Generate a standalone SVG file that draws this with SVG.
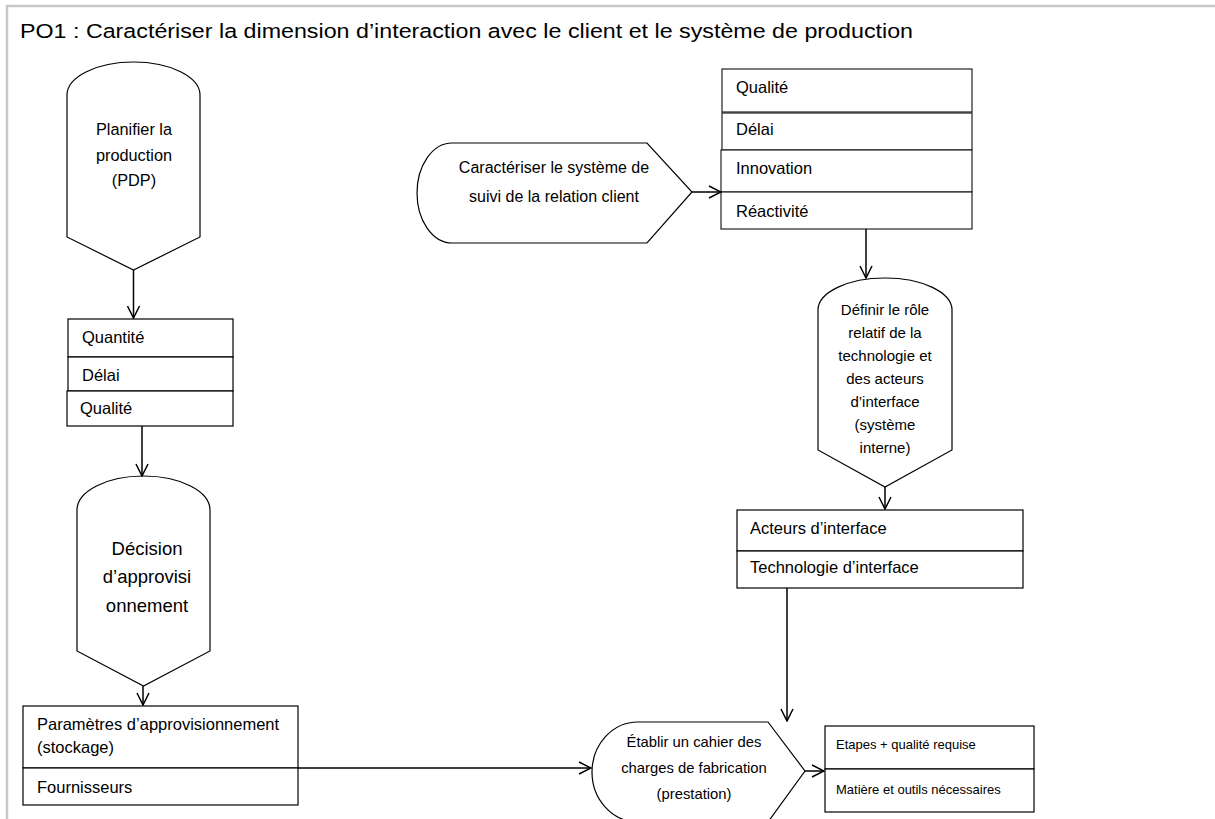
<svg xmlns="http://www.w3.org/2000/svg" width="1215" height="819" viewBox="0 0 1215 819">
<defs>
<marker id="arr" markerUnits="userSpaceOnUse" markerWidth="14" markerHeight="14" viewBox="0 0 14 14" refX="13" refY="7" orient="auto">
<path d="M1,1 L13,7 L1,13" fill="none" stroke="#000" stroke-width="1.5"/>
</marker>
<style>
.s{fill:#fff;stroke:#000;stroke-width:1.2}
.b{fill:#fff;stroke:#222;stroke-width:1.2}
.t{font-family:"Liberation Sans",Arial,sans-serif;fill:#000}
.m{text-anchor:middle}
.c{fill:none;stroke:#000;stroke-width:1.5;marker-end:url(#arr)}
</style>
</defs>
<rect width="1215" height="819" fill="#fff"/>
<g id="frame" stroke="#c8c8c8" stroke-width="2.5" fill="none">
<path d="M7,819 L7,6 L1215,6"/>
</g>
<text id="title" class="t" x="20" y="38" font-size="20.5" textLength="893" lengthAdjust="spacingAndGlyphs">PO1 : Caractériser la dimension d’interaction avec le client et le système de production</text>

<g id="planifier">
<path class="s" d="M67,95 A66.5,33 0 0 1 200,95 L200,237 L133.5,270 L67,237 Z"/>
<text class="t m" font-size="16.3" x="134" y="135">Planifier la</text>
<text class="t m" font-size="16.3" x="134" y="161">production</text>
<text class="t m" font-size="16.3" x="134" y="186">(PDP)</text>
</g>

<g id="qqd-left">
<rect class="s" x="68" y="319" width="165" height="38"/>
<rect class="s" x="68" y="357" width="165" height="34"/>
<rect class="s" x="67" y="391" width="166" height="35"/>
<text class="t" font-size="16.5" x="82" y="343">Quantité</text>
<text class="t" font-size="16.5" x="82" y="381">Délai</text>
<text class="t" font-size="16.5" x="80" y="414">Qualité</text>
</g>

<g id="decision">
<path class="s" d="M77,510 A66.5,34 0 0 1 210,510 L210,651 L143.5,686 L77,651 Z"/>
<text class="t m" font-size="18.5" x="147" y="555">Décision</text>
<text class="t m" font-size="18.5" x="147" y="583">d’approvisi</text>
<text class="t m" font-size="18.5" x="147" y="612">onnement</text>
</g>

<g id="parametres">
<rect class="s" x="23" y="706" width="275" height="62"/>
<rect class="s" x="23" y="768" width="275" height="37"/>
<text class="t" font-size="16.5" x="37" y="730">Paramètres d’approvisionnement</text>
<text class="t" font-size="16.5" x="37" y="753">(stockage)</text>
<text class="t" font-size="16.5" x="37" y="793">Fournisseurs</text>
</g>

<g id="caracteriser">
<path class="s" d="M452,143 L647,143 L692,192 L647,243 L452,243 A35,50 0 0 1 452,143 Z"/>
<text class="t m" font-size="16" x="554" y="173">Caractériser le système de</text>
<text class="t m" font-size="16" x="554" y="202">suivi de la relation client</text>
</g>

<g id="qdir-right">
<rect class="b" x="722" y="69" width="250" height="43"/>
<rect class="b" x="722" y="113" width="250" height="37"/>
<rect class="b" x="721" y="150" width="251" height="42"/>
<rect class="b" x="721" y="192" width="251" height="37"/>
<text class="t" font-size="16.5" x="736" y="93">Qualité</text>
<text class="t" font-size="16.5" x="736" y="135">Délai</text>
<text class="t" font-size="16.5" x="736" y="174">Innovation</text>
<text class="t" font-size="16.5" x="736" y="217">Réactivité</text>
</g>

<g id="definir">
<path class="s" d="M818,310 A67,32 0 0 1 952,310 L952,450 L885,487 L818,450 Z"/>
<text class="t m" font-size="15" x="885" y="315">Définir le rôle</text>
<text class="t m" font-size="15" x="885" y="338">relatif de la</text>
<text class="t m" font-size="15" x="885" y="361">technologie et</text>
<text class="t m" font-size="15" x="885" y="384">des acteurs</text>
<text class="t m" font-size="15" x="885" y="407">d’interface</text>
<text class="t m" font-size="15" x="885" y="430">(système</text>
<text class="t m" font-size="15" x="885" y="453">interne)</text>
</g>

<g id="acteurs">
<rect class="s" x="737" y="510" width="286" height="41"/>
<rect class="s" x="737" y="551" width="286" height="37"/>
<text class="t" font-size="16.5" x="750" y="534">Acteurs d’interface</text>
<text class="t" font-size="16.5" x="750" y="573">Technologie d’interface</text>
</g>

<g id="etablir">
<path class="s" d="M638,722 L768,722 L805,771 L768,822 L638,822 A46,50 0 0 1 638,722 Z"/>
<text class="t m" font-size="14.8" x="694" y="747">Établir un cahier des</text>
<text class="t m" font-size="14.8" x="694" y="773">charges de fabrication</text>
<text class="t m" font-size="14.8" x="694" y="799">(prestation)</text>
</g>

<g id="etapes">
<rect class="s" x="825" y="726" width="209" height="43"/>
<rect class="s" x="825" y="769" width="209" height="43"/>
<text class="t" font-size="13" x="836" y="749">Etapes + qualité requise</text>
<text class="t" font-size="13" x="836" y="794">Matière et outils nécessaires</text>
</g>

<g id="connectors">
<path class="c" d="M133.5,270 L133.5,318"/>
<path class="c" d="M142,426 L142,476"/>
<path class="c" d="M143,686 L143,705"/>
<path class="c" d="M298,768 L591,768"/>
<path class="c" d="M692,192 L721,192"/>
<path class="c" d="M866,229 L866,278"/>
<path class="c" d="M885,487 L885,509"/>
<path class="c" d="M787,588 L787,721"/>
<path class="c" d="M805,771 L824,771"/>
</g>
</svg>
